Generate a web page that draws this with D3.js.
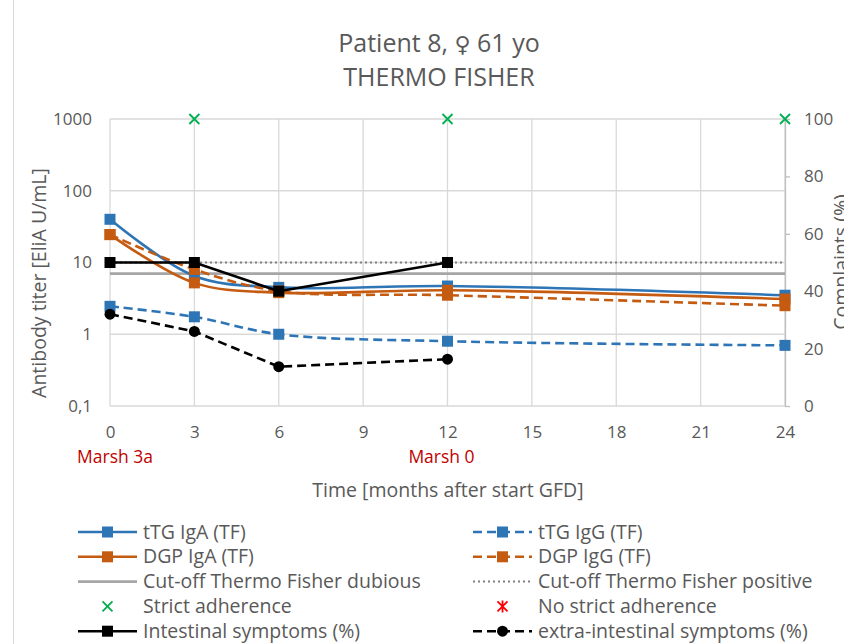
<!DOCTYPE html>
<html><head><meta charset="utf-8">
<script src="https://cdn.jsdelivr.net/npm/d3@7"></script>
<style>body{margin:0;background:#fff} svg{display:block;font-family:'Open Sans',Lato,sans-serif}</style>
</head><body><svg id="c" width="844" height="644"></svg>
<script>
// ---------- data ----------
const months = [0, 3, 6, 12, 24];
const tTG_IgA = [40, 6.5, 4.5, 4.7, 3.5];
const tTG_IgG = [2.45, 1.75, 1.0, 0.8, 0.7];
const DGP_IgA = [24.5, 5.2, 3.8, 4.1, 3.1];
const DGP_IgG = [24.5, 8, 4, 3.5, 2.5];
const cutoffDubious = 7;
const cutoffPositive = 10;
const symptomMonths = [0, 3, 6, 12];
const intestinal = [50, 50, 40, 50];
const extraIntestinal = [32, 26, 13.7, 16.3];
const strictMonths = [3, 12, 24];
const strictValues = [100, 100, 100];
const xTicks = [0, 3, 6, 9, 12, 15, 18, 21, 24];
const yTicks = [0.1, 1, 10, 100, 1000];
const y2Ticks = [0, 20, 40, 60, 80, 100];
const marshMonths = [0, 12];
const marshTexts = ["Marsh 3a", "Marsh 0"];
const titleParts = ["Patient 8, ", "\u2640", " 61 yo"];
const titleLine2 = "THERMO FISHER";
const legendNames = ["tTG IgA (TF)", "tTG IgG (TF)", "DGP IgA (TF)", "DGP IgG (TF)",
  "Cut-off Thermo Fisher dubious", "Cut-off Thermo Fisher positive",
  "Strict adherence", "No strict adherence",
  "Intestinal symptoms (%)", "extra-intestinal symptoms (%)"];

// ---------- styles ----------
const BLUE = "#2e75b6", ORANGE = "#c55a11", GRAY = "#a6a6a6", TXT = "#595959";
const FONT = "'Open Sans',Lato,sans-serif";
const marshOffsets = [5, -6];
const styles = [
  {color: BLUE, dash: null, marker: "square"},
  {color: BLUE, dash: "9,5", marker: "square"},
  {color: ORANGE, dash: null, marker: "square"},
  {color: ORANGE, dash: "9,5", marker: "square"},
  {color: GRAY, dash: null, marker: null},
  {color: "#808080", dash: "2,3", marker: null, width: 2},
  {color: "#00b050", dash: null, marker: "x", noLine: true},
  {color: "#ff0000", dash: null, marker: "star", noLine: true},
  {color: "#000000", dash: null, marker: "square"},
  {color: "#000000", dash: "9,5", marker: "circle"}
];

const svg = d3.select("#c");
const x = d3.scaleLinear().domain([0, 24]).range([110, 785]);
const y = d3.scaleLog().domain([0.1, 1000]).range([406, 119]);
const y2 = d3.scaleLinear().domain([0, 100]).range([406, 119]);

// chart border
svg.append("rect").attr("x", 13.5).attr("y", -2).attr("width", 900).attr("height", 700)
  .attr("fill", "none").attr("stroke", "#d9d9d9");

// gridlines
svg.append("g").selectAll("line").data(yTicks).join("line")
  .attr("x1", x(0)).attr("x2", x(24)).attr("y1", d => y(d)).attr("y2", d => y(d))
  .attr("stroke", "#d9d9d9").attr("stroke-width", 1.3);
svg.append("g").selectAll("line").data(xTicks).join("line")
  .attr("x1", d => x(d)).attr("x2", d => x(d)).attr("y1", y(1000)).attr("y2", y(0.1))
  .attr("stroke", "#d9d9d9").attr("stroke-width", 1.3);

// axes
const fmtY = d => d < 1 ? "0,1" : String(d);
const gl = svg.append("g").attr("transform", `translate(${x(0)},0)`)
  .call(d3.axisLeft(y).tickValues(yTicks).tickFormat(fmtY).tickSize(0).tickPadding(18));
gl.select(".domain").remove();
const gb = svg.append("g").attr("transform", `translate(0,${y(0.1)})`)
  .call(d3.axisBottom(x).tickValues(xTicks).tickFormat(d3.format("d")).tickSize(0).tickPadding(20));
gb.select(".domain").remove();
const gr = svg.append("g").attr("transform", `translate(${x(24)},0)`)
  .call(d3.axisRight(y2).tickValues(y2Ticks).tickSize(5).tickPadding(14).tickSizeOuter(0));
gr.select(".domain").attr("stroke", "#bfbfbf").attr("stroke-width", 1.3);
gr.selectAll(".tick line").attr("stroke", "#bfbfbf").attr("stroke-width", 1.3);
[gl, gb, gr].forEach(g => g.selectAll("text").attr("fill", TXT).style("font-size", "17px").style("font-family", FONT));

// marsh labels
svg.append("g").selectAll("text").data(marshMonths).join("text")
  .attr("x", (d, i) => x(d) + marshOffsets[i]).attr("y", 463).attr("text-anchor", "middle")
  .attr("fill", "#c00000").style("font-size", "17.5px").text((d, i) => marshTexts[i]);

// title: two separate lines
const t1 = svg.append("text").attr("x", 439).attr("y", 52).attr("text-anchor", "middle")
  .attr("fill", TXT).style("font-size", "25px");
t1.append("tspan").text(titleParts[0]);
t1.append("tspan").style("font-family", "'DejaVu Sans'").style("font-size", "22px").text(titleParts[1]);
t1.append("tspan").text(titleParts[2]);
svg.append("text").attr("x", 439).attr("y", 86).attr("text-anchor", "middle")
  .attr("fill", TXT).style("font-size", "25px").text(titleLine2);

svg.append("text").attr("transform", "translate(46,283) rotate(-90)").attr("text-anchor", "middle")
  .attr("fill", TXT).style("font-size", "19.5px").text("Antibody titer [EliA U/mL]");
svg.append("text").attr("transform", "translate(848,262) rotate(-90)").attr("text-anchor", "middle")
  .attr("fill", TXT).style("font-size", "19.5px").text("Complaints (%)");
svg.append("text").attr("x", 448).attr("y", 497).attr("text-anchor", "middle")
  .attr("fill", TXT).style("font-size", "19.5px").text("Time [months after start GFD]");

// marker drawing
function marker(g, type, color, cx, cy) {
  if (type === "square") {
    g.append("rect").attr("x", cx - 5.5).attr("y", cy - 5.5).attr("width", 11).attr("height", 11).attr("fill", color);
  } else if (type === "circle") {
    g.append("circle").attr("cx", cx).attr("cy", cy).attr("r", 5.5).attr("fill", color);
  } else if (type === "x") {
    g.append("path").attr("d", `M${cx-5},${cy-5}L${cx+5},${cy+5}M${cx-5},${cy+5}L${cx+5},${cy-5}`)
      .attr("stroke", color).attr("stroke-width", 1.8).attr("fill", "none");
  } else if (type === "star") {
    g.append("path").attr("d", `M${cx-5},${cy-5}L${cx+5},${cy+5}M${cx-5},${cy+5}L${cx+5},${cy-5}M${cx},${cy-6}L${cx},${cy+6}`)
      .attr("stroke", color).attr("stroke-width", 1.8).attr("fill", "none");
  }
}

const plot = svg.append("g");
function series(xs, vals, ys, st, smooth) {
  const pts = xs.map((m, i) => [x(m), ys(vals[i])]);
  const line = d3.line().curve(smooth ? d3.curveCatmullRom.alpha(0.5) : d3.curveLinear);
  plot.append("path").attr("d", line(pts)).attr("fill", "none").attr("stroke", st.color)
    .attr("stroke-width", st.width || 2.6).attr("stroke-dasharray", st.dash).attr("stroke-linejoin", "round");
  const mg = plot.append("g");
  pts.forEach(p => marker(mg, st.marker, st.color, p[0], p[1]));
}

// cut-off lines
plot.append("line").attr("x1", x(0)).attr("x2", x(24)).attr("y1", y(cutoffDubious)).attr("y2", y(cutoffDubious))
  .attr("stroke", styles[4].color).attr("stroke-width", 2.6);
plot.append("line").attr("x1", x(0)).attr("x2", x(24)).attr("y1", y(cutoffPositive)).attr("y2", y(cutoffPositive))
  .attr("stroke", styles[5].color).attr("stroke-width", 2).attr("stroke-dasharray", styles[5].dash);

series(months, tTG_IgA, y, styles[0], true);
series(months, tTG_IgG, y, styles[1], true);
series(months, DGP_IgA, y, styles[2], true);
series(months, DGP_IgG, y, styles[3], true);
const sg = plot.append("g");
strictMonths.forEach((m, i) => marker(sg, "x", styles[6].color, x(m), y2(strictValues[i])));
series(symptomMonths, intestinal, y2, styles[8], false);
series(symptomMonths, extraIntestinal, y2, styles[9], false);

// legend
const leg = svg.append("g");
legendNames.forEach((name, i) => {
  const col = i % 2, row = Math.floor(i / 2);
  const lx = col === 0 ? 78 : 473, ly = 532 + row * 24.8;
  const st = styles[i];
  const g = leg.append("g");
  if (!st.noLine) {
    g.append("line").attr("x1", lx).attr("x2", lx + 59).attr("y1", ly).attr("y2", ly)
      .attr("stroke", st.color).attr("stroke-width", st.width || 2.6).attr("stroke-dasharray", st.dash);
  }
  if (st.marker) marker(g, st.marker, st.color, lx + 29.5, ly);
  g.append("text").attr("x", lx + 65).attr("y", ly + 6.5).attr("fill", TXT).style("font-size", "19.5px").text(name);
});
</script></body></html>
